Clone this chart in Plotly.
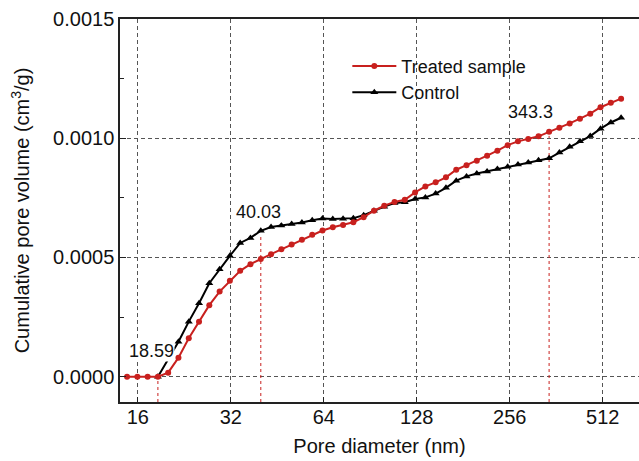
import plotly.graph_objects as go

# ---------------- data ----------------
pore_diameter = [14.77, 15.95, 17.22, 18.59, 20.07, 21.67, 23.40, 25.26, 27.27, 29.45,
                 31.79, 34.33, 37.06, 40.03, 43.21, 46.66, 50.38, 54.39, 58.73, 63.41,
                 68.46, 73.92, 79.81, 86.17, 93.04, 100.45, 108.46, 117.10, 126.43, 136.51,
                 147.39, 159.14, 171.82, 185.52, 200.30, 216.27, 233.50, 252.11, 272.21, 293.90,
                 317.33, 343.3, 370.7, 400.2, 432.1, 466.5, 503.7, 543.9, 587.2]

treated = [0, 0, 0, 0, 0.000017, 0.000080, 0.000161, 0.000231, 0.000300, 0.000357,
           0.000402, 0.000444, 0.000472, 0.000494, 0.000514, 0.000534, 0.000554, 0.000574,
           0.000595, 0.000613, 0.000627, 0.000636, 0.000648, 0.000669, 0.000696, 0.000717,
           0.000733, 0.000742, 0.000773, 0.000798, 0.000815, 0.000836, 0.000868, 0.000887,
           0.000906, 0.000927, 0.000948, 0.000971, 0.000987, 0.000997, 0.001008, 0.001027,
           0.001044, 0.001062, 0.001082, 0.001103, 0.001130, 0.001149, 0.001166]

control = [None, None, None, 0, None, 0.000147, 0.000231, 0.000308, 0.000392, 0.000451,
           0.000507, 0.000561, 0.000582, 0.000612, 0.000628, 0.000634, 0.000640, 0.000647,
           0.000656, 0.000663, 0.000661, 0.000662, 0.000665, 0.000677, 0.000696, 0.000713,
           0.000728, 0.000732, 0.000745, 0.000752, 0.000768, 0.000792, 0.000822, 0.000840,
           0.000852, 0.000861, 0.000871, 0.000880, 0.000890, 0.000898, 0.000908, 0.000916,
           0.000940, 0.000964, 0.000987, 0.001009, 0.001040, 0.001066, 0.001086]

marked_diameters = [18.59, 40.03, 343.3]
marked_labels = ["18.59", "40.03", "343.3"]
marked_tops = [0, 0.00059, 0.00101]

x_ticks = [16, 32, 64, 128, 256, 512]
y_ticks = [0, 0.0005, 0.0010, 0.0015]
y_ticktext = ["0.0000", "0.0005", "0.0010", "0.0015"]

# ---------------- figure ----------------
W, H = 639, 461
ML, MR, MT, MB = 119.5, 0, 19, 59
FONT = "Liberation Sans, Arial, sans-serif"
RED = "#c8201e"
Y_MIN, Y_MAX = -0.000106, 0.0015

fig = go.Figure()

for d, top in zip(marked_diameters, marked_tops):
    fig.add_trace(go.Scatter(x=[d, d], y=[Y_MIN, top], mode="lines",
                             line=dict(color=RED, width=1, dash="3px,3px"),
                             showlegend=False, hoverinfo="skip"))

fig.add_trace(go.Scatter(x=pore_diameter, y=control, name="Control",
                         mode="lines+markers", connectgaps=True,
                         line=dict(color="black", width=2),
                         marker=dict(symbol="triangle-up", size=7, color="black")))
fig.add_trace(go.Scatter(x=pore_diameter, y=treated, name="Treated sample",
                         mode="lines+markers",
                         line=dict(color=RED, width=2),
                         marker=dict(symbol="circle", size=6, color=RED)))

# annotation positions in pixels -> paper
def px2paper(px, py):
    pw, ph = W - ML - MR, H - MT - MB
    return (px - ML) / pw, (H - MB - py) / ph

ann_px = [(151.5, 351), (258, 212), (530, 111.7)]
for lab, (px, py) in zip(marked_labels, ann_px):
    xp, yp = px2paper(px, py)
    fig.add_annotation(x=xp, y=yp, xref="paper", yref="paper", text=lab,
                       showarrow=False, xanchor="center", yanchor="middle",
                       font=dict(family=FONT, size=18, color="#111"),
                       bgcolor="white", borderpad=0)

grid = dict(showgrid=True, gridcolor="#555555", gridwidth=1, griddash="4px,3px")

fig.update_xaxes(type="log", range=[1.1466, 2.8267],
                 tickvals=x_ticks, ticktext=[str(v) for v in x_ticks],
                 ticks="inside", ticklen=5, tickwidth=1, tickcolor="#222",
                 ticklabelstandoff=-4,
                 showline=True, linecolor="#222", linewidth=1.5, mirror=True,
                 tickfont=dict(family=FONT, size=20, color="#111"),
                 title=dict(text="Pore diameter (nm)", standoff=12,
                            font=dict(family=FONT, size=20, color="#111")),
                 zeroline=False, **grid)
fig.update_yaxes(range=[Y_MIN, Y_MAX], tickvals=y_ticks, ticktext=y_ticktext,
                 ticks="inside", ticklen=6, tickwidth=1, tickcolor="#222",
                 minor=dict(dtick=0.00025, ticks="inside", ticklen=4, tickcolor="#222",
                            showgrid=False),
                 showline=True, linecolor="#222", linewidth=1.5, mirror=False,
                 tickfont=dict(family=FONT, size=20, color="#111"),
                 title=dict(text="Cumulative pore volume (cm<sup>3</sup>/g)", standoff=18,
                            font=dict(family=FONT, size=20, color="#111")),
                 zeroline=False, **grid)

fig.update_layout(
    width=W, height=H,
    margin=dict(l=ML, r=MR, t=MT, b=MB, pad=0),
    paper_bgcolor="white", plot_bgcolor="white",
    font=dict(family=FONT, color="#111"),
    legend=dict(x=0.438, y=0.925, xanchor="left", yanchor="top",
                traceorder="reversed", bgcolor="rgba(0,0,0,0)",
                font=dict(family=FONT, size=18, color="#111"),
                itemwidth=44, tracegroupgap=0),
    showlegend=True,
)

fig.write_html("out.html")
